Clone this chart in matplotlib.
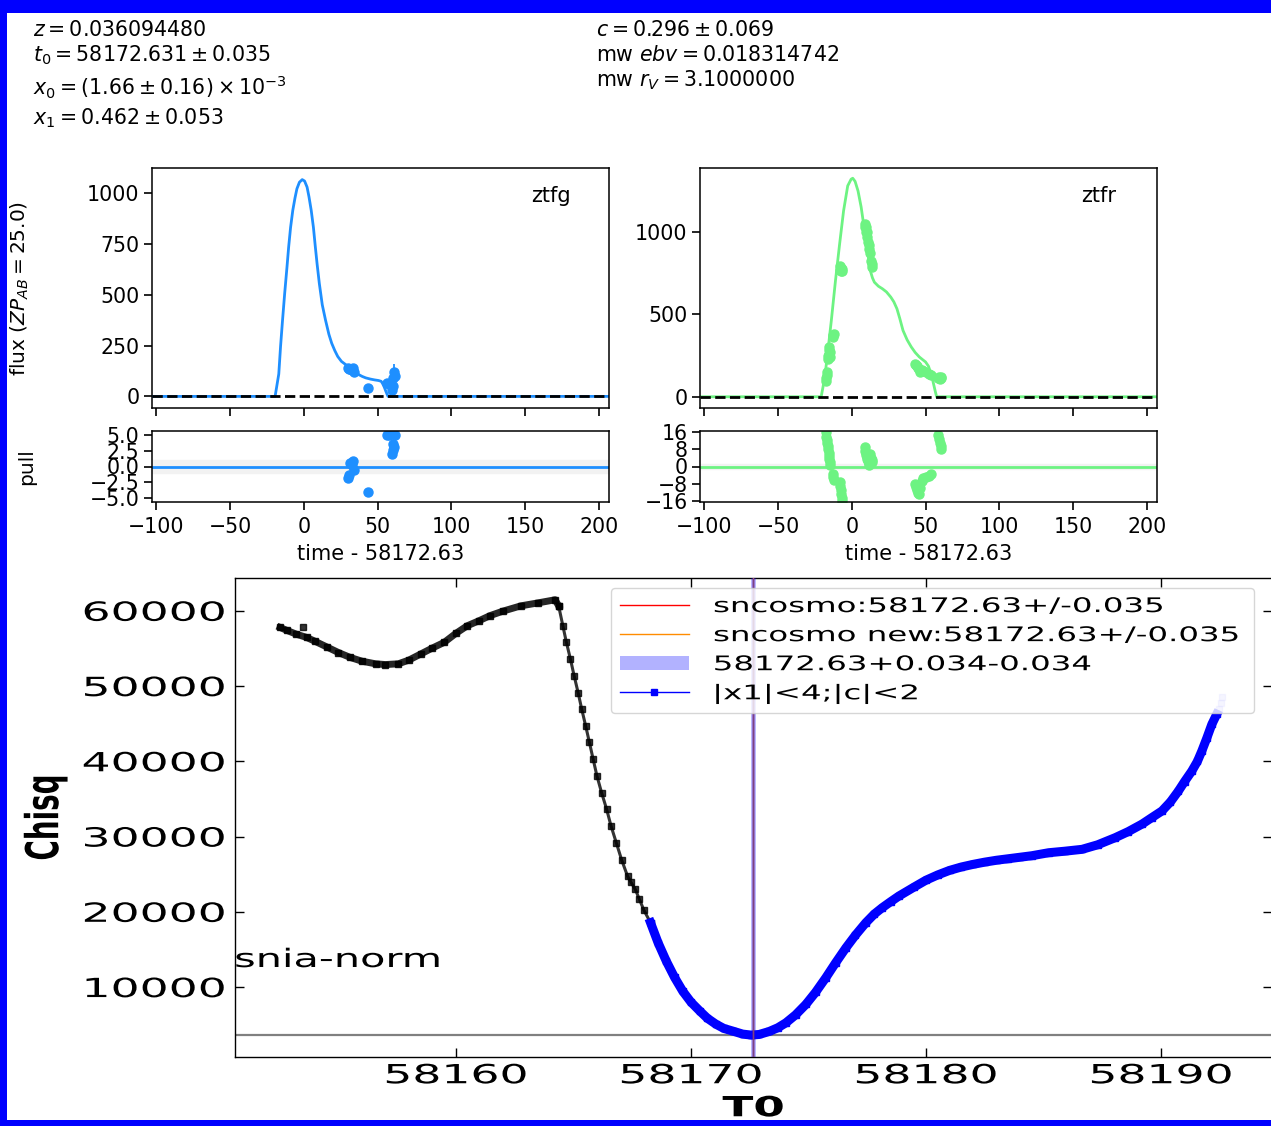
import matplotlib
matplotlib.use("Agg")
import matplotlib.pyplot as plt
from matplotlib.patches import Rectangle
from matplotlib.patheffects import AbstractPathEffect
from matplotlib.transforms import Affine2D

plt.rcParams["font.family"] = ["DejaVu Sans"]

# ---------------- fit summary ----------------
fit_text_left = [
    r"$z = 0.036094480$",
    r"$t_0 = 58172.631 \pm 0.035$",
    r"$x_0 = (1.66 \pm 0.16) \times 10^{-3}$",
    r"$x_1 = 0.462 \pm 0.053$",
]
fit_text_right = [
    r"$c = 0.296 \pm 0.069$",
    r"mw $ebv = 0.018314742$",
    r"mw $r_V = 3.1000000$",
]
time_offset_label = "time - 58172.63"

# ---------------- ztfg light curve ----------------
g_model_t = [-103, -19.5, -17, -15.8, -14.5, -13, -11.5, -10.3, -9, -7.5, -6, -4.7, -3, -1.1,
             0.5, 2.2, 3.5, 5, 6.5, 7.8, 9, 10.5, 12.5, 14.7, 17, 18.9, 21, 23, 25.5, 28.6, 31,
             34.1, 37, 39.6, 42, 45.2, 48, 50.7, 52.5, 53.5, 54.6, 55.7, 56.5, 57.1, 207]
g_model_f = [0, 0, 110, 245, 370, 506, 630, 734, 830, 914, 975, 1020, 1052, 1065,
             1058, 1028, 980, 914, 830, 734, 650, 555, 450, 375, 305, 261, 225, 196, 172, 155, 140,
             122, 108, 98, 91, 85, 81, 78, 74, 62, 45, 24, 10, 0, 0]
g_t = [29.9, 30.6, 31.4, 32.4, 33.3, 34.2, 43.2, 56.3, 57.6, 59.6, 60.2, 60.6, 61.0, 61.6]
g_f = [139, 133, 137, 128, 140, 122, 41, 65, 60, 33, 49, 90, 122, 100]
g_ferr = [8, 8, 8, 8, 8, 8, 11, 8, 8, 10, 12, 20, 35, 20]
g_pull = [-1.8, -1.3, 0.6, 0.3, 0.8, -0.6, -4.1, 5.0, 5.0, 2.0, 2.6, 3.6, 3.0, 5.0]

# ---------------- ztfr light curve ----------------
r_model_t = [-103, -20.8, -18.5, -16.7, -13.9, -11.1, -8.3, -5.6, -2.8, -0.5, 0.6, 2.2, 4.2, 6.3,
             8.3, 10.5, 12.5, 14, 15.3, 18, 20.8, 23.5, 26.4, 28.5, 30.6, 32.5, 34.7, 37.5, 40.3,
             43, 45.8, 48, 50, 52, 53.6, 55, 56.4, 57.5, 207]
r_model_f = [0, 0, 110, 241, 463, 704, 925, 1127, 1278, 1318, 1324, 1305, 1247, 1150,
             1026, 890, 765, 720, 694, 670, 654, 635, 604, 575, 533, 475, 402, 345, 302,
             268, 241, 225, 211, 185, 141, 95, 40, 0, 0]
r_t = [-17.6, -17.3, -17.0, -16.7, -16.4, -16.1, -15.8, -15.5, -15.2, -15.0, -14.8,
       -13.0, -12.6, -12.2, -8.3, -7.9, -7.5, -7.2, -6.9, -7.0,
       8.6, 9.0, 9.4, 9.8, 10.2, 10.6, 11.0, 11.4, 11.8, 12.5, 13.0, 13.4, 13.9,
       42.8, 43.5, 44.2, 45.0, 45.6, 46.4, 47.5, 48.6, 50.5, 52.3, 53.4,
       58.7, 59.2, 59.8, 60.4, 60.6]
r_f = [95, 111, 130, 151, 231, 250, 282, 262, 300, 270, 240,
       372, 362, 380, 790, 770, 765, 780, 760, 775,
       1046, 1030, 1026, 1000, 996, 966, 936, 920, 895, 870, 820, 805, 789,
       201, 190, 186, 176, 171, 151, 160, 155, 150, 141, 131,
       111, 121, 105, 121, 115]
r_ferr = [25, 20, 15, 15, 15, 12, 12, 12, 12, 12, 12,
          12, 12, 12, 15, 15, 15, 15, 15, 15,
          15, 15, 15, 15, 15, 15, 15, 15, 15, 15, 15, 15, 15,
          10, 10, 10, 10, 10, 10, 10, 10, 10, 10, 10,
          12, 12, 12, 12, 12]
r_pull = [16.0, 14.0, 12.5, 11.0, 9.5, 8.0, 6.5, 5.0, 3.5, 2.0, 0.5,
          -3.5, -5.0, -6.5, -7.5, -9.0, -11.0, -13.0, -15.0, -16.0,
          9.0, 7.5, 6.5, 5.5, 4.5, 3.5, 2.5, 1.5, 0.5, 6.0, 4.0, 3.0, 2.0,
          -8.0, -9.5, -11.0, -12.5, -13.0, -10.0, -7.0, -5.5, -5.0, -4.5, -3.5,
          15.0, 13.0, 11.0, 9.5, 8.0]

# ---------------- chi-square scan over T0 ----------------
t0_fit = 58172.63
t0_err = 0.034
scan_t0_out = [58152.52, 58152.8, 58153.2, 58153.65, 58154.0, 58154.5, 58155.0, 58155.5, 58156.0,
               58156.58, 58157.0, 58157.55, 58158.0, 58158.53, 58159.0, 58159.5, 58160.0, 58160.48,
               58161.0, 58161.45, 58162.0, 58162.76, 58163.5, 58164.22, 58164.37, 58164.55, 58164.70,
               58164.87, 58165.03, 58165.2, 58165.35, 58165.52, 58165.68, 58165.84, 58166.0, 58166.2,
               58166.41, 58166.6, 58166.82, 58167.05, 58167.3, 58167.45, 58167.63, 58167.8, 58168.0,
               58168.28]
scan_chisq_out = [57780, 57400, 56900, 56450, 55950, 55200, 54450, 53800, 53300,
                  52950, 52850, 52950, 53450, 54300, 55050, 55800, 57000, 58000,
                  58700, 59350, 59950, 60650, 61050, 61460, 60650, 58000, 55800,
                  53600, 51350, 49100, 46950, 44700, 42500, 40250, 38050, 35800,
                  33650, 31400, 29200, 26900, 24750, 23900, 23000, 21700, 20200,
                  18550]
scan_t0_stray = [58153.49]
scan_chisq_stray = [57780]
scan_t0_in = [58168.28, 58168.6, 58168.95, 58169.3, 58169.65, 58170.0, 58170.38, 58170.7, 58171.07,
              58171.4, 58171.78, 58172.2, 58172.56, 58172.9, 58173.33, 58173.7, 58174.04, 58174.45,
              58174.89, 58175.3, 58175.74, 58176.15, 58176.59, 58177.0, 58177.44, 58177.8, 58178.14,
              58178.5, 58178.85, 58179.5, 58180.0, 58180.5, 58181.0, 58181.5, 58182.0, 58182.5,
              58183.0, 58183.5, 58184.0, 58184.5, 58185.22, 58185.9, 58186.64, 58187.3, 58188.05,
              58188.6, 58189.19, 58189.6, 58190.04, 58190.4, 58190.74, 58191.0, 58191.31, 58191.55,
              58191.74, 58191.95, 58192.16, 58192.37]
scan_chisq_in = [18550, 15900, 13450, 11300, 9450, 8000, 6800, 5850, 5050,
                 4500, 4150, 3750, 3620, 3700, 4100, 4600, 5250, 6300,
                 7700, 9300, 11250, 13200, 15200, 16900, 18550, 19700, 20550,
                 21350, 22100, 23300, 24200, 24900, 25500, 25950, 26300, 26600,
                 26850, 27050, 27250, 27450, 27850, 28050, 28300, 28900, 29850,
                 30650, 31650, 32500, 33400, 34600, 36050, 37300, 38700, 40000,
                 41400, 43100, 44900, 46250]
scan_t0_edge = [58192.48, 58192.55, 58192.6]
scan_chisq_edge = [47000, 47700, 48500]

legend_labels = ["sncosmo:58172.63+/-0.035", "sncosmo new:58172.63+/-0.035",
                 "58172.63+0.034-0.034", "|x1|<4;|c|<2"]


class WideText(AbstractPathEffect):
    """Draw text glyphs widened horizontally about a chosen anchor."""

    def __init__(self, sx, anchor="center"):
        super().__init__()
        self.sx = sx
        self.anchor = anchor

    def draw_path(self, renderer, gc, tpath, affine, rgbFace=None):
        ext = tpath.get_extents(affine)
        if self.anchor == "left":
            cx = ext.x0
        elif self.anchor == "right":
            cx = ext.x1
        else:
            cx = 0.5 * (ext.x0 + ext.x1)
        widen = Affine2D().translate(-cx, 0).scale(self.sx, 1.0).translate(cx, 0)
        renderer.draw_path(gc, tpath, affine + widen, rgbFace)


W, H = 1271, 1126
fig = plt.figure(figsize=(W / 100, H / 100), dpi=100)


def add_px_axes(x0, y0, x1, y1):
    return fig.add_axes([x0 / W, 1 - y1 / H, (x1 - x0) / W, (y1 - y0) / H])


# fit parameter text
for s, yb in zip(fit_text_left, [36.5, 61, 95, 124]):
    fig.text(33 / W, 1 - yb / H, s, fontsize=14.8, va="baseline", ha="left")
for s, yb in zip(fit_text_right, [36.5, 61, 86]):
    fig.text(596 / W, 1 - yb / H, s, fontsize=14.8, va="baseline", ha="left")


def light_curve(ax_f, ax_p, band, color, mt, mf, t, f, ferr, pull,
                flux_lim, flux_ticks, pull_lim, pull_ticks, ylabels):
    ax_f.plot(mt, mf, color=color, lw=2.0, zorder=2)
    ax_f.errorbar(t, f, yerr=ferr, fmt="o", color=color, ms=6.5, elinewidth=1.3,
                  capsize=0, zorder=3)
    ax_f.axhline(0, color="black", ls="--", lw=2, zorder=4)
    ax_f.text(0.873, 0.883, band, transform=ax_f.transAxes, ha="center", va="center",
              fontsize=15)
    ax_f.set_xlim(-103, 207)
    ax_f.set_ylim(*flux_lim)
    ax_f.set_yticks(flux_ticks)
    ax_f.set_xticks([-100, -50, 0, 50, 100, 150, 200])
    ax_f.tick_params(labelbottom=False)

    ax_p.axhspan(-1, 1, color="0.95", zorder=0)
    ax_p.axhline(0, color=color, lw=2, zorder=1)
    ax_p.plot(t, pull, "o", color=color, ms=6.5, zorder=2)
    ax_p.set_xlim(-103, 207)
    ax_p.set_ylim(*pull_lim)
    ax_p.set_yticks(pull_ticks)
    ax_p.set_xticks([-100, -50, 0, 50, 100, 150, 200])
    ax_p.set_xlabel(time_offset_label, fontsize=15)
    ax_p.xaxis.set_label_coords(0.5, -0.73)
    ax_p.xaxis.label.set_va("center")

    for ax in (ax_f, ax_p):
        ax.tick_params(labelsize=14.8, length=5.5, width=1.2)
        for sp in ax.spines.values():
            sp.set_linewidth(1.1)
    ax_p.tick_params(axis="x", pad=5)

    if ylabels:
        ax_f.set_ylabel(r"flux ($ZP_{AB} = 25.0$)", fontsize=14.5)
        ax_f.yaxis.set_label_coords(-0.289, 0.5)
        ax_f.yaxis.label.set_va("center")
        ax_p.set_ylabel("pull", fontsize=14.5)
        ax_p.yaxis.set_label_coords(-0.274, 0.5)
        ax_p.yaxis.label.set_va("center")


g_color = "#1e8fff"
r_color = "#6df382"

ax_gf = add_px_axes(152, 168, 609, 408)
ax_gp = add_px_axes(152, 431, 609, 502)
light_curve(ax_gf, ax_gp, "ztfg", g_color, g_model_t, g_model_f, g_t, g_f, g_ferr, g_pull,
            (-57, 1122), [0, 250, 500, 750, 1000], (-5.6, 5.6), [-5, -2.5, 0, 2.5, 5], True)

ax_rf = add_px_axes(700, 168, 1157, 408)
ax_rp = add_px_axes(700, 431, 1157, 502)
light_curve(ax_rf, ax_rp, "ztfr", r_color, r_model_t, r_model_f, r_t, r_f, r_ferr, r_pull,
            (-68, 1386), [0, 500, 1000], (-16.7, 16.7), [-16, -8, 0, 8, 16], False)

# ---------------- chi-square scan panel ----------------
SX_TICK = 1.73
SX_TEXT = 1.63
ax = add_px_axes(235, 578, 1271.5, 1057)
n_flat = 24  # scan points before the steep drop
ax.plot(scan_t0_out[:n_flat + 1], scan_chisq_out[:n_flat + 1], "-s", color="black",
        alpha=0.85, lw=5, ms=4.5, zorder=3)
ax.plot(scan_t0_out[n_flat:], scan_chisq_out[n_flat:], "-s", color="black",
        alpha=0.8, lw=2.2, ms=5, zorder=3)
ax.plot(scan_t0_stray, scan_chisq_stray, "s", color="black", alpha=0.8, ms=4.5, zorder=3)
h_in, = ax.plot(scan_t0_in, scan_chisq_in, "-s", color="blue", lw=6.5, ms=5, zorder=3,
                label=legend_labels[3])
ax.plot(scan_t0_edge, scan_chisq_edge, "s", color="blue", alpha=0.18, ms=5, zorder=3)
ax.axhline(min(scan_chisq_in), color="gray", lw=1.6, zorder=2)
h_red = ax.axvline(t0_fit, color="red", lw=1.0, zorder=4, label=legend_labels[0])
h_org = ax.axvline(t0_fit, color="darkorange", lw=1.0, zorder=4, label=legend_labels[1])
h_span = ax.axvspan(t0_fit - t0_err, t0_fit + t0_err, color="blue", alpha=0.3, lw=2.0,
                    zorder=5, label=legend_labels[2])

ax.set_xlim(58150.6, 58194.7)
ax.set_ylim(707, 64353)
ax.set_xticks([58160, 58170, 58180, 58190])
ax.set_yticks([10000, 20000, 30000, 40000, 50000, 60000])
ax.tick_params(direction="in", top=True, right=True, length=6.5, width=1,
               labelsize=19)
ax.tick_params(axis="x", pad=4.5)
ax.tick_params(axis="y", pad=7)
for sp in ax.spines.values():
    sp.set_linewidth(1.0)

ax.set_xlabel("T0", fontsize=20, fontweight="bold")
ax.xaxis.set_label_coords(0.5, -0.107)
ax.xaxis.label.set_va("center")
ax.set_ylabel("Chisq", fontsize=20, fontweight="bold")
ax.yaxis.set_label_coords(-0.183, 0.5)
ax.yaxis.label.set_va("center")
ax.xaxis.label.set_path_effects([WideText(SX_TEXT, "center")])
ax.yaxis.label.set_path_effects([WideText(SX_TEXT, "center")])

for tk in ax.xaxis.get_major_ticks():
    tk.label1.set_path_effects([WideText(SX_TICK, "center")])
for tk in ax.yaxis.get_major_ticks():
    tk.label1.set_path_effects([WideText(SX_TICK, "right")])

snia = ax.text(0.0, 0.2025, "snia-norm", transform=ax.transAxes, ha="left", va="center",
               fontsize=18.3)
snia.set_path_effects([WideText(SX_TEXT, "left")])

x0 = (611 - 235) / 1036.5
x1 = (1254 - 235) / 1036.5
ytop = (1057 - 588) / 479
leg = ax.legend(handles=[h_red, h_org, h_span, h_in], loc="upper left",
                bbox_to_anchor=(x0, ytop - 0.3, x1 - x0, 0.3), mode="expand",
                borderaxespad=0, fontsize=14.5, handlelength=3.4, handletextpad=1.25,
                labelspacing=0.5, borderpad=0.45)
for t in leg.get_texts():
    t.set_path_effects([WideText(1.61, "left")])
leg.legend_handles[2].set_linewidth(0)
leg.legend_handles[3].set_linewidth(1)
leg.legend_handles[3].set_markersize(5)

# page border
fig.add_artist(Rectangle((0, 0), 7 / W, 1, transform=fig.transFigure, color="#0000ff", lw=0))
fig.add_artist(Rectangle((0, 1 - 13 / H), 1, 13 / H, transform=fig.transFigure,
                         color="#0000ff", lw=0))
fig.add_artist(Rectangle((0, 0), 1, 6 / H, transform=fig.transFigure, color="#0000ff", lw=0))

fig.savefig("out.png", dpi=100)
